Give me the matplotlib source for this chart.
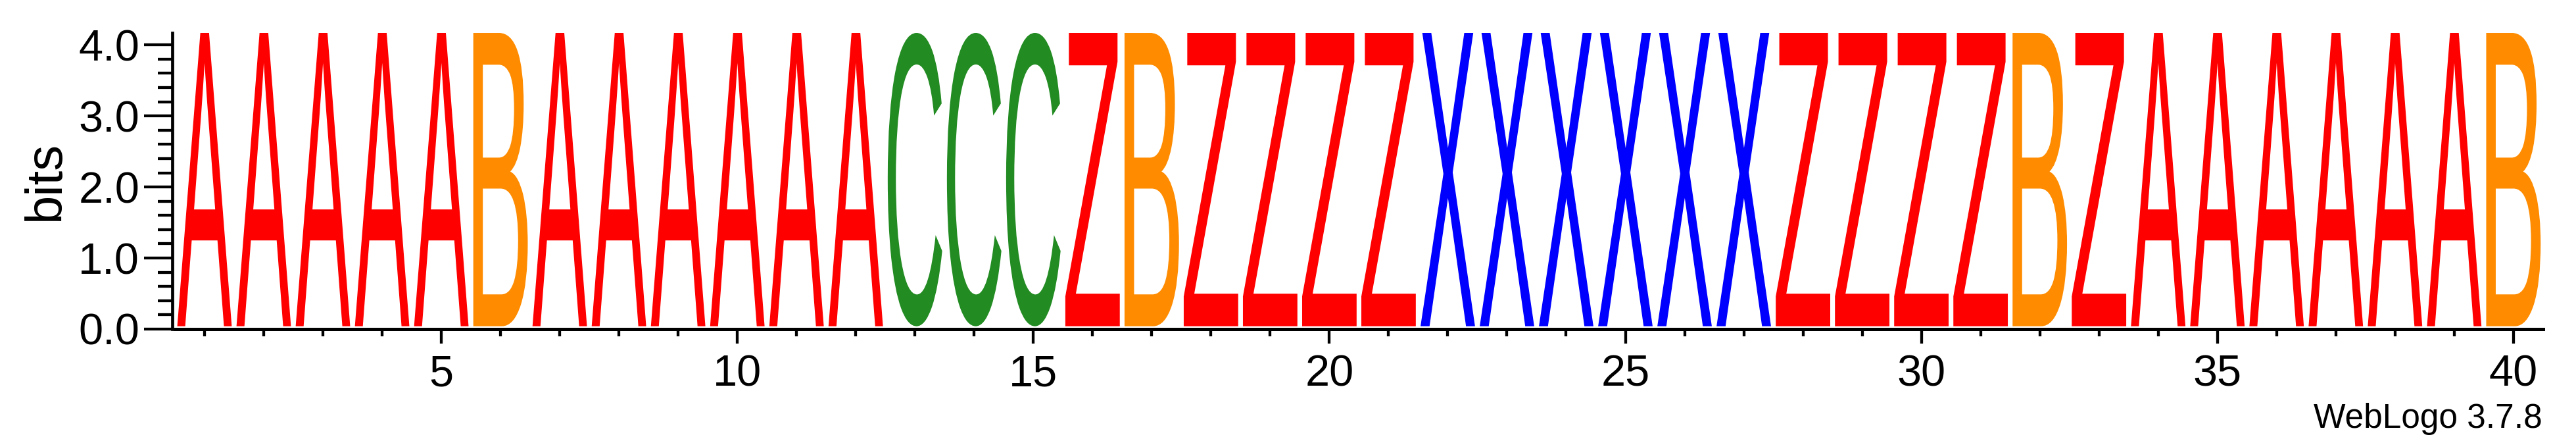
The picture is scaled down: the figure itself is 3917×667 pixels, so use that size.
"""Sequence logo (WebLogo style) redrawn with matplotlib."""

import matplotlib

matplotlib.use("Agg")
import matplotlib.pyplot as plt
from matplotlib.font_manager import FontProperties
from matplotlib.patches import PathPatch
from matplotlib.textpath import TextPath
from matplotlib.transforms import Affine2D
from matplotlib.ticker import FixedLocator, MultipleLocator

# one symbol per position, each filling the full stack
letters = list("AAAAABAAAAAACCCZBZZZZXXXXXXZZZZBZAAAAAAB")
positions = list(range(1, 41))
stack_bits = [
    4.17, 4.17, 4.17, 4.17, 4.17, 4.17, 4.17, 4.17, 4.17, 4.17,
    4.17, 4.17, 4.17, 4.17, 4.17, 4.17, 4.17, 4.17, 4.17, 4.17,
    4.17, 4.17, 4.17, 4.17, 4.17, 4.17, 4.17, 4.17, 4.17, 4.17,
    4.17, 4.17, 4.17, 4.17, 4.17, 4.17, 4.17, 4.17, 4.17, 4.17,
]
labelled_positions = [5, 10, 15, 20, 25, 30, 35, 40]
y_ticks = [0.0, 1.0, 2.0, 3.0, 4.0]
y_max = 4.17
version_text = "WebLogo 3.7.8"

letter_colors = {
    "A": "#ff0000",
    "Z": "#ff0000",
    "B": "#ff8c00",
    "C": "#228b22",
    "X": "#0000ff",
}

glyph_font = FontProperties(family="Liberation Sans", weight="normal")
plt.rcParams["font.family"] = ["Liberation Sans", "DejaVu Sans"]


def draw_glyph(axis, char, x, bottom, top, width, color):
    """Stretch a glyph outline so it fills one stack box."""
    path = TextPath((0, 0), char, size=1, prop=glyph_font)
    ext = path.get_extents()
    transform = (
        Affine2D()
        .translate(-ext.x0, -ext.y0)
        .scale(width / ext.width, (top - bottom) / ext.height)
        .translate(x - width / 2, bottom)
    )
    axis.add_patch(
        PathPatch(transform.transform_path(path), facecolor=color,
                  edgecolor="none", linewidth=0)
    )


figure = plt.figure(figsize=(39.17, 6.67), dpi=100)
axis = figure.add_axes([0.0679, 0.2504, 0.9193, 0.6747])

for pos, char, height in zip(positions, letters, stack_bits):
    draw_glyph(axis, char, pos, 0.04, height, 0.92, letter_colors[char])

axis.set_xlim(0.5, 40.5)
axis.set_ylim(0, y_max)

for side in ("top", "right"):
    axis.spines[side].set_visible(False)
axis.spines["left"].set_position(("outward", 3))
axis.spines["left"].set_linewidth(3.4)
axis.spines["bottom"].set_linewidth(3.6)

axis.xaxis.set_major_locator(FixedLocator(labelled_positions))
axis.xaxis.set_minor_locator(MultipleLocator(1))
axis.yaxis.set_major_locator(FixedLocator(y_ticks))
axis.yaxis.set_minor_locator(MultipleLocator(0.2))
axis.set_yticklabels([f"{v:.1f}" for v in y_ticks])

axis.tick_params(axis="x", which="major", length=15.6, width=3.1,
                 labelsize=48, pad=12)
axis.tick_params(axis="x", which="minor", length=7.7, width=3.1)
axis.tick_params(axis="y", which="major", length=30.7, width=3.1,
                 labelsize=48, pad=5)
axis.tick_params(axis="y", which="minor", length=15.6, width=3.1)

axis.set_ylabel("bits", fontsize=56)
axis.yaxis.set_label_coords(-0.0445, 0.5)

figure.text(0.987, 0.0255, version_text, ha="right", va="baseline",
            fontsize=37)

figure.savefig("out.png", dpi=100)
plt.close(figure)
